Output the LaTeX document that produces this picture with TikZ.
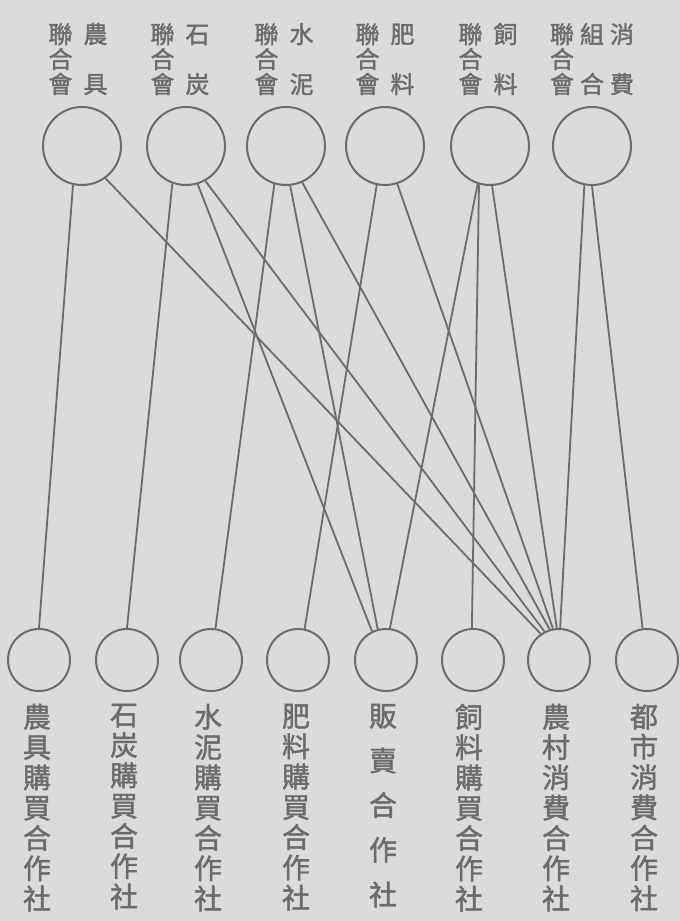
\documentclass[tikz,border=0pt]{standalone}
\usepackage{fontspec}
\usepackage{xcolor}
\usepackage{tikz}
\usetikzlibrary{positioning}
\newfontfamily\cjk{Noto Sans CJK TC}[FakeBold=1.5]
\definecolor{ink}{gray}{0.42}
\definecolor{paper}{gray}{0.86}
\newcommand\tightlines{\lineskiplimit=-30pt\relax}

\begin{document}
\begin{tikzpicture}[x=1pt, y=1pt, line width=1.8pt, color=ink,
    union/.style={circle, draw=ink, line width=2pt, minimum size=78pt, inner sep=0pt},
    coop/.style={circle, draw=ink, line width=2pt, minimum size=62pt, inner sep=0pt},
    unionlab/.style={text=ink, inner sep=0pt, align=center, font={\cjk\fontsize{24}{25}\selectfont\tightlines}},
    cooplab/.style={text=ink, inner sep=0pt, align=center, font={\cjk\fontsize{28}{30.3}\selectfont\tightlines}}]
    \fill[paper] (0,0) rectangle (680,921);
    \useasboundingbox (0,0) rectangle (680,921);

    \node[union] (t1) at (82,775) {};
    \node[union] (t2) at (186,775) {};
    \node[union] (t3) at (286,775) {};
    \node[union] (t4) at (385,775) {};
    \node[union] (t5) at (490,775) {};
    \node[union] (t6) at (592,775) {};

    \node[unionlab, above=10pt of t1, xshift=-4pt] (t1lab) {聯\hspace{11pt}農\\合\hspace{11pt}\phantom{農}\\會\hspace{11pt}具};
    \node[unionlab, above=10pt of t2, xshift=-6pt] (t2lab) {聯\hspace{11pt}石\\合\hspace{11pt}\phantom{石}\\會\hspace{11pt}炭};
    \node[unionlab, above=10pt of t3, xshift=-2pt] (t3lab) {聯\hspace{11pt}水\\合\hspace{11pt}\phantom{水}\\會\hspace{11pt}泥};
    \node[unionlab, above=10pt of t4] (t4lab) {聯\hspace{11pt}肥\\合\hspace{11pt}\phantom{肥}\\會\hspace{11pt}料};
    \node[unionlab, above=10pt of t5, xshift=-2pt] (t5lab) {聯\hspace{11pt}飼\\合\hspace{11pt}\phantom{飼}\\會\hspace{11pt}料};
    \node[unionlab, above=10pt of t6] (t6lab) {聯\hspace{6pt}組\hspace{6pt}消\\合\hspace{6pt}\phantom{組}\hspace{6pt}\phantom{消}\\會\hspace{6pt}合\hspace{6pt}費};

    \node[coop] (c1) at (39,261) {};
    \node[coop] (c2) at (127,261) {};
    \node[coop] (c3) at (211,261) {};
    \node[coop] (c4) at (298,261) {};
    \node[coop] (c5) at (386,261) {};
    \node[coop] (c6) at (473,261) {};
    \node[coop] (c7) at (559,261) {};
    \node[coop] (c8) at (647,261) {};

    \node[cooplab, below=11pt of c1, xshift=-2pt] (c1lab) {農\\具\\購\\買\\合\\作\\社};
    \node[cooplab, below=11pt of c2, xshift=-3pt] (c2lab) {石\\炭\\購\\買\\合\\作\\社};
    \node[cooplab, below=11pt of c3, xshift=-3pt] (c3lab) {水\\泥\\購\\買\\合\\作\\社};
    \node[cooplab, below=11pt of c4, xshift=-2pt] (c4lab) {肥\\料\\購\\買\\合\\作\\社};
    \node[cooplab, below=11pt of c5, xshift=-3pt, font={\cjk\fontsize{28}{44.7}\selectfont\tightlines}] (c5lab) {販\\賣\\合\\作\\社};
    \node[cooplab, below=11pt of c6, xshift=-4pt] (c6lab) {飼\\料\\購\\買\\合\\作\\社};
    \node[cooplab, below=11pt of c7, xshift=-3pt] (c7lab) {農\\村\\消\\費\\合\\作\\社};
    \node[cooplab, below=11pt of c8, xshift=-3pt] (c8lab) {都\\市\\消\\費\\合\\作\\社};

    \draw (t1.257) -- (c1.90);
    \draw (t1.306) -- (c7.125);
    \draw (t2.250) -- (c2.90);
    \draw (t2.287) -- (c5.116);
    \draw (t2.299) -- (c7.117);
    \draw (t3.253) -- (c3.82);
    \draw (t3.276) -- (c5.105);
    \draw (t3.294) -- (c7.107);
    \draw (t4.258) -- (c4.78);
    \draw (t4.288) -- (c7.101);
    \draw (t5.252) -- (c5.83);
    \draw (t5.254) -- (c6.92);
    \draw (t5.273) -- (c7.94);
    \draw (t6.259) -- (c7.88);
    \draw (t6.270) -- (c8.98);
\end{tikzpicture}
\end{document}
